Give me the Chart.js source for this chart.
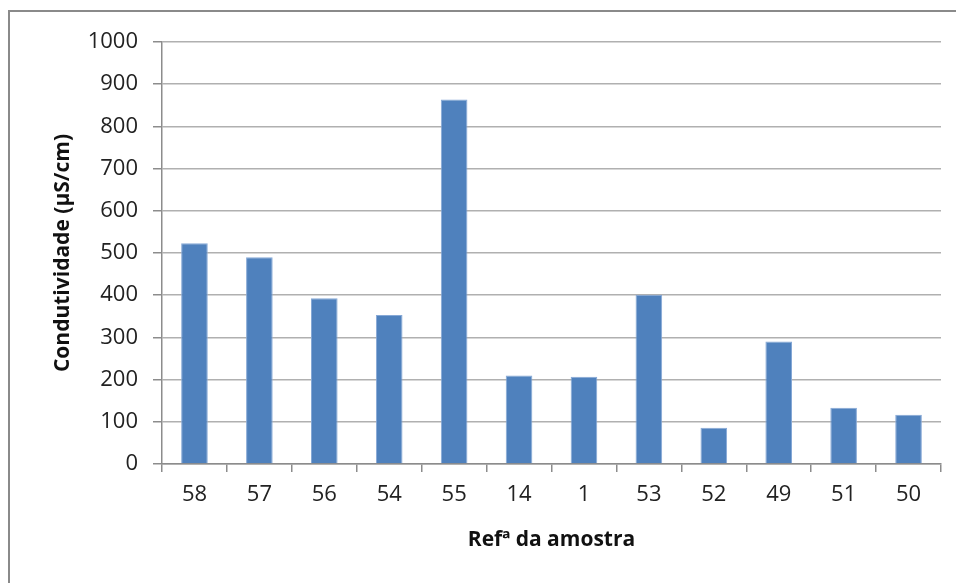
<!DOCTYPE html>
<html>
<head>
<meta charset="utf-8">
<script src="https://cdn.jsdelivr.net/npm/chart.js@4"></script>
<style>
    html, body { margin: 0; padding: 0; background: #fff; overflow: hidden; }
    #wrap { position: relative; width: 956px; height: 583px; }
    #frame { position: absolute; left: 8px; top: 10px; width: 960px; height: 600px; border: 2px solid #8a8a8a; box-sizing: border-box; }
    canvas { position: absolute; left: 0; top: 0; }
</style>
</head>
<body>
<div id="wrap">
    <div id="frame"></div>
    <canvas id="chart" width="956" height="583"></canvas>
</div>
<script>
        // Sample references and conductivity values
        const samples = ['58', '57', '56', '54', '55', '14', '1', '53', '52', '49', '51', '50'];
        const conductivity = [523, 490, 393, 353, 864, 210, 207, 401, 86, 290, 133, 117];
        const yTicks = [0, 100, 200, 300, 400, 500, 600, 700, 800, 900, 1000];

        const gridColor = '#b0b0b0';
        const axisColor = '#8c8c8c';

        function initChart() {
            const ctx = document.getElementById('chart').getContext('2d');
            new Chart(ctx, {
                type: 'bar',
                data: {
                    labels: samples,
                    datasets: [{
                        data: conductivity,
                        backgroundColor: '#4f81bd',
                        borderColor: '#86a8d6',
                        borderWidth: 1,
                        categoryPercentage: 1,
                        barPercentage: 0.41
                    }]
                },
                options: {
                    responsive: false,
                    animation: false,
                    layout: {
                        padding: { left: 0, top: 42, right: 15, bottom: 0 }
                    },
                    plugins: {
                        legend: { display: false },
                        tooltip: { enabled: false }
                    },
                    scales: {
                        x: {
                            grid: {
                                display: true,
                                drawOnChartArea: false,
                                offset: true,
                                tickLength: 8,
                                color: axisColor,
                                lineWidth: 1.5
                            },
                            border: { color: axisColor, width: 1.5 },
                            ticks: {
                                color: '#222',
                                padding: 10,
                                maxRotation: 0,
                                font: { family: 'Open Sans', size: 22 }
                            },
                            title: {
                                display: true,
                                text: 'Refª da amostra',
                                color: '#111',
                                font: { family: 'Open Sans', size: 21, weight: 'bold' },
                                padding: { top: 0, bottom: 30 }
                            },
                            afterFit: scale => { scale.height = 119; }
                        },
                        y: {
                            min: 0,
                            max: 1000,
                            afterBuildTicks: scale => {
                                scale.ticks = yTicks.map(v => ({ value: v }));
                            },
                            grid: {
                                color: gridColor,
                                lineWidth: 1.5,
                                tickLength: 9,
                                tickColor: axisColor
                            },
                            border: { color: axisColor, width: 1.5 },
                            ticks: {
                                color: '#222',
                                padding: 15,
                                font: { family: 'Open Sans', size: 22 },
                                callback: v => String(v)
                            },
                            title: {
                                display: true,
                                text: 'Condutividade (µS/cm)',
                                color: '#111',
                                font: { family: 'Open Sans', size: 21, weight: 'bold' },
                                padding: { top: 50, bottom: 0 }
                            },
                            afterFit: scale => { scale.width = 162; }
                        }
                    }
                }
            });
        }

        window.onload = function() {
            initChart();
        }
</script>
</body>
</html>
